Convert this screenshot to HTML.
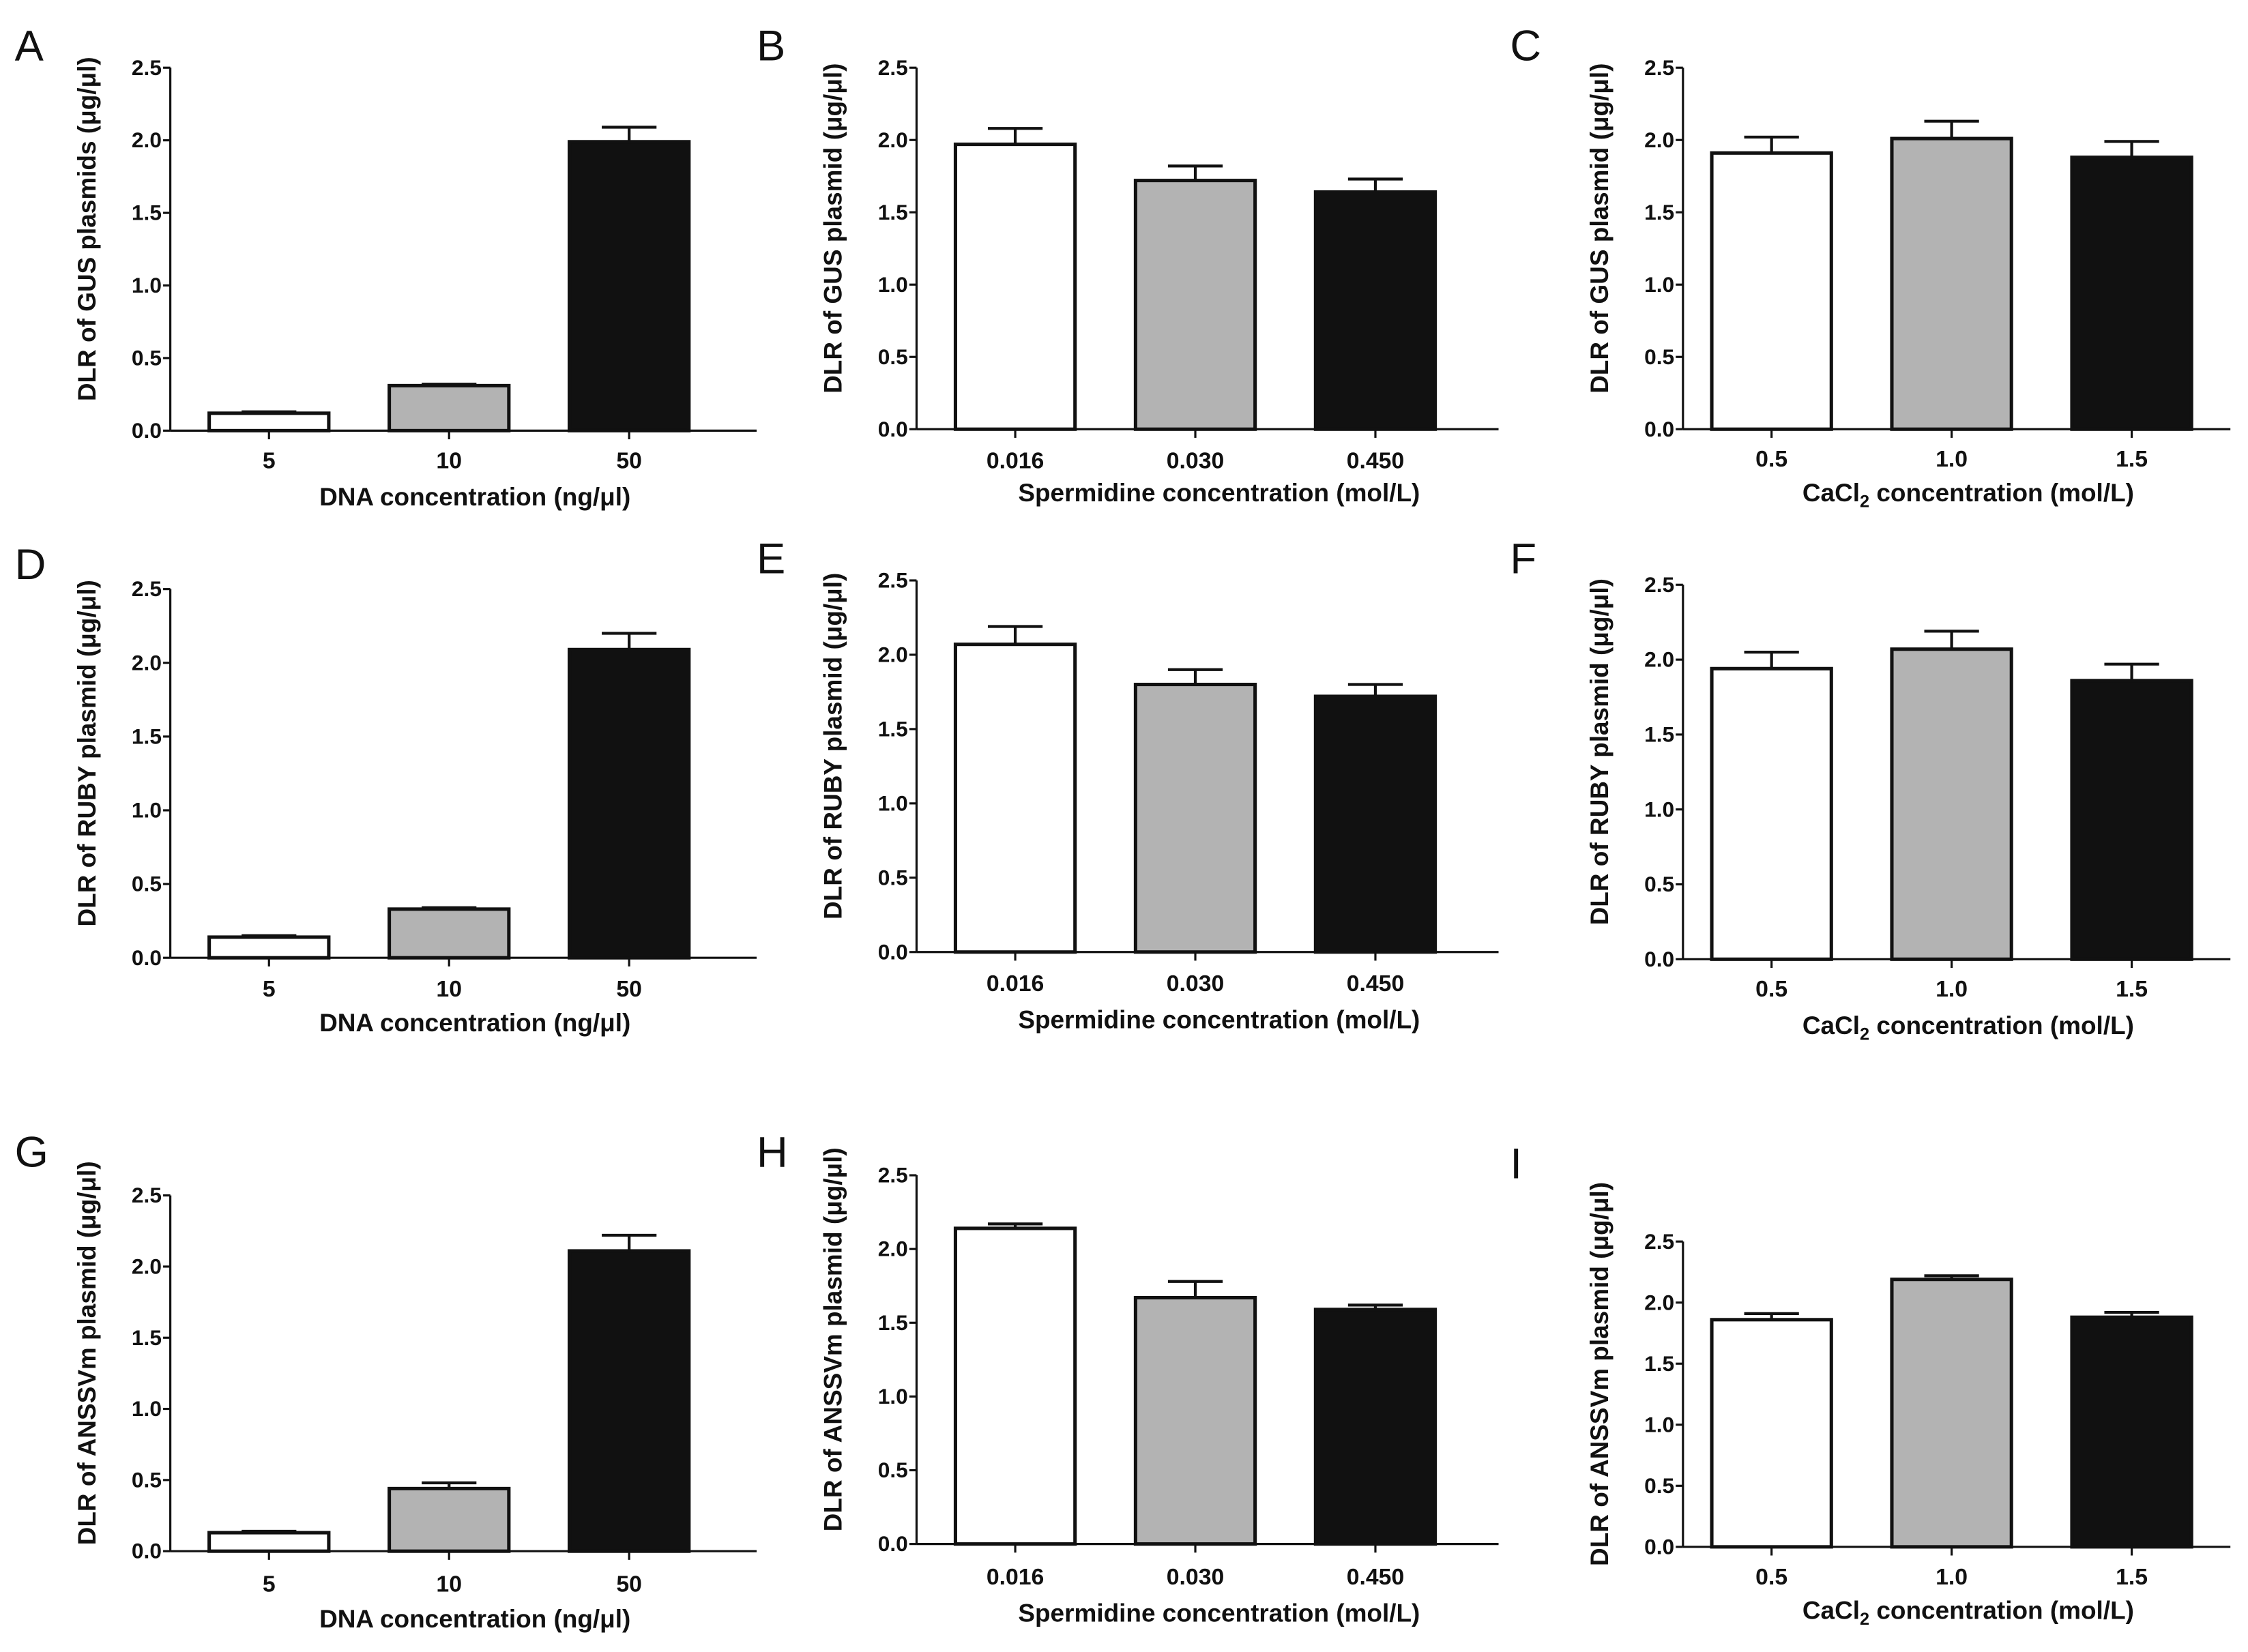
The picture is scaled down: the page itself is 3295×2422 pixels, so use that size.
<!DOCTYPE html>
<html><head><meta charset="utf-8"><style>
html,body{margin:0;padding:0;background:#fff;}
svg{display:block;}
text{font-family:"Liberation Sans",sans-serif;fill:#111;}
</style></head><body>
<svg id="fig" width="3295" height="2422" viewBox="0 0 1560 1147" xmlns="http://www.w3.org/2000/svg"></svg>
<script>
// Data arrays
const letters = ["A","B","C","D","E","F","G","H","I"];
const catsDNA = ["5","10","50"];
const catsSpd = ["0.016","0.030","0.450"];
const catsCa = ["0.5","1.0","1.5"];
const valsA = [0.12,0.31,1.99]; const errA = [0.01,0.01,0.10];
const valsB = [1.97,1.72,1.64]; const errB = [0.11,0.10,0.09];
const valsC = [1.91,2.01,1.88]; const errC = [0.11,0.12,0.11];
const valsD = [0.14,0.33,2.09]; const errD = [0.01,0.01,0.11];
const valsE = [2.07,1.80,1.72]; const errE = [0.12,0.10,0.08];
const valsF = [1.94,2.07,1.86]; const errF = [0.11,0.12,0.11];
const valsG = [0.13,0.44,2.11]; const errG = [0.01,0.04,0.11];
const valsH = [2.14,1.67,1.59]; const errH = [0.03,0.11,0.03];
const valsI = [1.86,2.19,1.88]; const errI = [0.05,0.03,0.04];
const yTicks = [0,0.5,1.0,1.5,2.0,2.5];
const yTickLabels = ["0.0","0.5","1.0","1.5","2.0","2.5"];
const yTitles = ["DLR of GUS plasmids (μg/μl)","DLR of GUS plasmid (μg/μl)","DLR of GUS plasmid (μg/μl)",
 "DLR of RUBY plasmid (μg/μl)","DLR of RUBY plasmid (μg/μl)","DLR of RUBY plasmid (μg/μl)",
 "DLR of ANSSVm plasmid (μg/μl)","DLR of ANSSVm plasmid (μg/μl)","DLR of ANSSVm plasmid (μg/μl)"];

const NS="http://www.w3.org/2000/svg";
const svg=document.getElementById('fig');
function mk(tag,attrs,parent){const e=document.createElementNS(NS,tag);for(const k in attrs)e.setAttribute(k,attrs[k]);(parent||svg).appendChild(e);return e;}

// layout: [axisX, yTop(2.5), yZero, tickLabelY, titleY, letterX, letterY]
const layout=[
 [118,47,299,325,351,10,42],[636,47,298,325,348,525,42],[1168,47,298,324,348,1048,42],
 [118,409,665,692,716,10,402],[636,403,661,688,714,525,398],[1168,406,666,692,718,1048,398],
 [118,830,1077,1105,1130,10,810],[636,816,1072,1100,1126,525,810],[1168,862,1074,1100,1124,1048,818]];
const allVals=[valsA,valsB,valsC,valsD,valsE,valsF,valsG,valsH,valsI];
const allErr=[errA,errB,errC,errD,errE,errF,errG,errH,errI];
const allCats=[catsDNA,catsSpd,catsCa,catsDNA,catsSpd,catsCa,catsDNA,catsSpd,catsCa];
const fills=["#ffffff","#b3b3b3","#111111"];

for(let p=0;p<9;p++){
 const [ax,yt,y0,tly,tty,lx,ly]=layout[p];
 const g=mk('g',{});
 
 
 const yS=v=>y0-(v/2.5)*(y0-yt);
 const bandStart=ax+(p%3===2?20:27);
 const step=125, bw=83;
 const xC=i=>bandStart+bw/2+i*step;
 const axEnd=ax+(p%3===0?407:(p%3===1?404:380));
 const lt=mk('text',{x:lx,y:ly,'font-size':30},g);lt.textContent=letters[p];
 
 
 for(let i=0;i<3;i++){
  const v=allVals[p][i], e=allErr[p][i];
  const top=yS(v), et=yS(v+e);
  const ln=mk('line',{x1:xC(i),x2:xC(i),y1:top,y2:et,stroke:'#111','stroke-width':2},g);
  
  
  const cap=mk('line',{x1:xC(i)-19,x2:xC(i)+19,y1:et,y2:et,stroke:'#111','stroke-width':2},g);
  
  
  const r=mk('rect',{x:xC(i)-bw/2,y:top,width:bw,height:y0-top,fill:fills[i],stroke:'#111','stroke-width':2.4},g);
  
  
  const tk=mk('line',{x1:xC(i),x2:xC(i),y1:y0,y2:y0+6,stroke:'#111','stroke-width':1.5},g);
  
  
  const tl=mk('text',{x:xC(i),y:tly,'font-size':16,'font-weight':'bold','text-anchor':'middle'},g);
  tl.textContent=allCats[p][i];
  
  
 }
 const yAx=mk('line',{x1:ax,x2:ax,y1:yt,y2:y0,stroke:'#111','stroke-width':1.5},g);
 
 
 const xAx=mk('line',{x1:ax,x2:axEnd,y1:y0,y2:y0,stroke:'#111','stroke-width':1.5},g);
 
 
 for(let k=0;k<yTicks.length;k++){
  const yy=yS(yTicks[k]);
  const t=mk('line',{x1:ax-5,x2:ax,y1:yy,y2:yy,stroke:'#111','stroke-width':1.5},g);
  
  
  const tl=mk('text',{x:ax-6,y:yy+5,'font-size':15,'font-weight':'bold','text-anchor':'end'},g);
  tl.textContent=yTickLabels[k];
  
  
 }
 const xt=mk('text',{x:(ax+axEnd)/2+8,y:tty,'font-size':17.5,'font-weight':'bold','text-anchor':'middle'},g);
 if(p%3===0) xt.textContent='DNA concentration (ng/μl)';
 else if(p%3===1) xt.textContent='Spermidine concentration (mol/L)';
 else { xt.textContent='CaCl'; const s=mk('tspan',{'font-size':12,dy:4},xt); s.textContent='2'; const s2=mk('tspan',{dy:-4},xt); s2.textContent=' concentration (mol/L)'; }
 
 
 const cx=ax-52, cy=(yt+y0)/2-14;
 const yT=mk('text',{x:cx,y:cy,'font-size':17.5,'font-weight':'bold','text-anchor':'middle',transform:`rotate(-90 ${cx} ${cy})`},g);
 yT.textContent=yTitles[p];
 
 
}
</script>
</body></html>
